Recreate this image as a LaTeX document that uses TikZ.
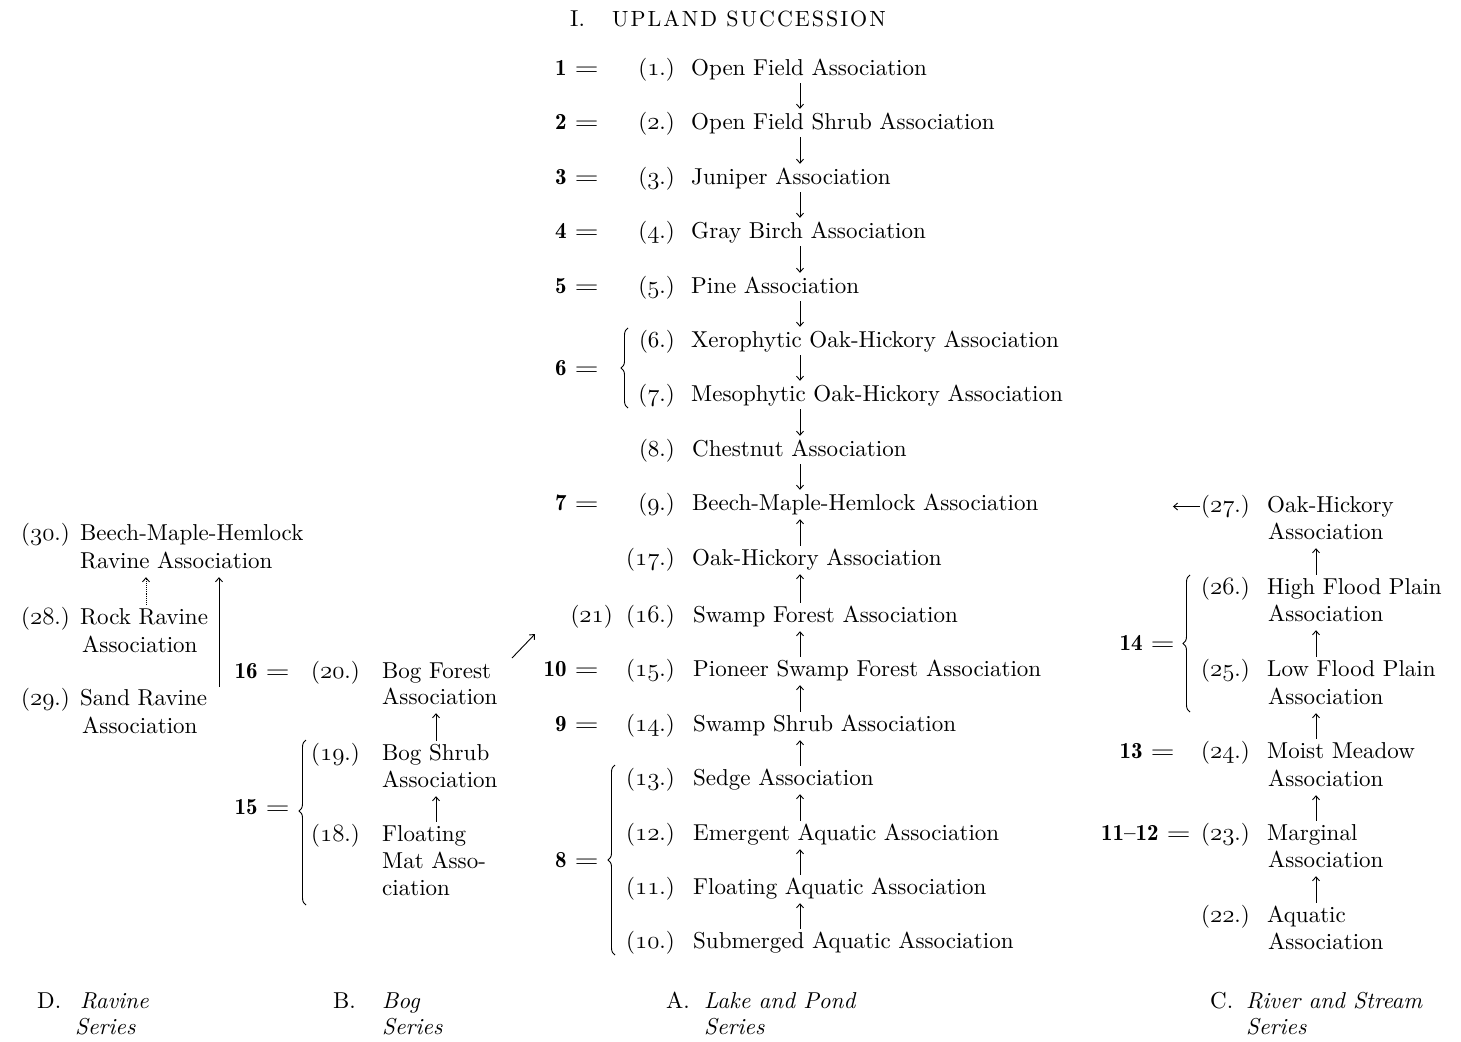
\documentclass[tikz,border=0pt]{standalone}
\usepackage{fontspec}
\usepackage{graphicx}
\usetikzlibrary{arrows.meta,decorations.pathreplacing}
\newfontfamily\diagfont{lmroman10-regular.otf}[ItalicFont=lmroman10-italic.otf, BoldFont=lmroman10-bold.otf]
\newfontfamily\titlefont{lmroman10-regular.otf}[LetterSpace=9]
\newfontfamily\eqfont{lmromandemi10-regular.otf}
\newcommand\diagfs{\diagfont\fontsize{23}{27}\selectfont}
\newcommand\osn[1]{{\fontencoding{OML}\fontfamily{cmm}\fontseries{m}\fontshape{it}\selectfont #1}}
\newcommand\eqlab[1]{{\eqfont #1}\hspace{8pt}\scalebox{1.35}[1]{=}}
\begin{document}
\begin{tikzpicture}[x=1pt,y=-1pt,
  t/.style={anchor=base west, inner sep=0pt, text height=16pt, text depth=5pt, font=\diagfs},
  te/.style={t, anchor=base east},
  arr/.style={-{Straight Barb[length=4pt,width=7pt]}, line width=0.9pt, shorten <=3pt, shorten >=4pt},
  dotarr/.style={arr, densely dotted},
  brc/.style={decorate, decoration={brace, amplitude=7pt}, line width=0.9pt},
  it/.style={t, font=\diagfs\itshape}]
\useasboundingbox (0,0) rectangle (1461,1041);
\fill[white] (0,0) rectangle (1461,1041);
% ---------- title
\node[t] (ti) at (570,27) {I.};
\node[t, font=\titlefont\fontsize{22}{26}\selectfont] (title) at (612,27) {UPLAND SUCCESSION};
% ---------- centre column
\coordinate (cx) at (800,0);
\node[te] (e1) at (599,75) {\eqlab{1}};
\node[te] (e2) at (599,129) {\eqlab{2}};
\node[te] (e3) at (599,184) {\eqlab{3}};
\node[te] (e4) at (599,238) {\eqlab{4}};
\node[te] (e5) at (599,293) {\eqlab{5}};
\node[te] (e6) at (599,375) {\eqlab{6}};
\node[te] (e7) at (599,510) {\eqlab{7}};
\node[te] (e10) at (599,676) {\eqlab{10}};
\node[te] (e9) at (599,731) {\eqlab{9}};
\node[te] (e8) at (599,867) {\eqlab{8}};
\node[te] (n1) at (675,75) {(\osn{1}.)};
\node[te] (n2) at (675,129) {(\osn{2}.)};
\node[te] (n3) at (675,184) {(\osn{3}.)};
\node[te] (n4) at (675,238) {(\osn{4}.)};
\node[te] (n5) at (675,293) {(\osn{5}.)};
\node[te] (n6) at (675,347) {(6.)};
\node[te] (n7) at (675,401) {(\osn{7}.)};
\node[te] (n8) at (675,456) {(8.)};
\node[te] (n9) at (675,510) {(\osn{9}.)};
\node[te] (n17) at (675,565) {(\osn{17}.)};
\node[te] (n21) at (613,622) {(\osn{21})};
\node[te] (n16) at (675,622) {(\osn{16}.)};
\node[te] (n15) at (675,676) {(\osn{15}.)};
\node[te] (n14) at (675,731) {(\osn{14}.)};
\node[te] (n13) at (675,785) {(\osn{13}.)};
\node[te] (n12) at (675,840) {(\osn{12}.)};
\node[te] (n11) at (675,894) {(\osn{11}.)};
\node[te] (n10) at (675,948) {(\osn{10}.)};
\node[t] (r1) at (691,75) {Open Field Association};
\node[t] (r2) at (691,129) {Open Field Shrub Association};
\node[t] (r3) at (691,184) {Juniper Association};
\node[t] (r4) at (691,238) {Gray Birch Association};
\node[t] (r5) at (691,293) {Pine Association};
\node[t] (r6) at (691,347) {Xerophytic Oak-Hickory Association};
\node[t] (r7) at (691,401) {Mesophytic Oak-Hickory Association};
\node[t] (r8) at (692,456) {Chestnut Association};
\node[t] (r9) at (692,510) {Beech-Maple-Hemlock Association};
\node[t] (r17) at (692,565) {Oak-Hickory Association};
\node[t] (r16) at (693,622) {Swamp Forest Association};
\node[t] (r15) at (693,676) {Pioneer Swamp Forest Association};
\node[t] (r14) at (693,731) {Swamp Shrub Association};
\node[t] (r13) at (693,785) {Sedge Association};
\node[t] (r12) at (693,840) {Emergent Aquatic Association};
\node[t] (r11) at (693,894) {Floating Aquatic Association};
\node[t] (r10) at (693,948) {Submerged Aquatic Association};
\foreach \a/\b in {r1/r2,r2/r3,r3/r4,r4/r5,r5/r6,r6/r7,r7/r8,r8/r9}
  \draw[arr] (\a.south -| cx) -- (\b.north -| cx);
\foreach \a/\b in {r17/r9,r16/r17,r15/r16,r14/r15,r13/r14,r12/r13,r11/r12,r10/r11}
  \draw[arr] (\a.north -| cx) -- (\b.south -| cx);
\coordinate (b6a) at (628,408); \coordinate (b6b) at (628,328);
\draw[brc] (b6a) -- (b6b);
\coordinate (b8a) at (615,955); \coordinate (b8b) at (615,765);
\draw[brc] (b8a) -- (b8b);
% ---------- bog column
\node[te] (e16) at (290,678) {\eqlab{16}};
\node[te] (e15) at (290,814) {\eqlab{15}};
\node[te] (n20) at (360,678) {(\osn{20}.)};
\node[te] (n19) at (360,760) {(\osn{19}.)};
\node[te] (n18) at (360,841) {(\osn{18}.)};
\node[t] (b20a) at (382,678) {Bog Forest};
\node[t] (b20b) at (382,704) {Association};
\node[t] (b19a) at (382,760) {Bog Shrub};
\node[t] (b19b) at (382,787) {Association};
\node[t] (b18a) at (382,841) {Floating};
\node[t] (b18b) at (382,868) {Mat Asso-};
\node[t] (b18c) at (382,895) {ciation};
\coordinate (bx) at (436,0);
\draw[arr] (b19a.north -| bx) -- (b20b.south -| bx);
\draw[arr] (b18a.north -| bx) -- (b19b.south -| bx);
\coordinate (b15a) at (306,905); \coordinate (b15b) at (306,740);
\draw[brc, decoration={aspect=0.57}] (b15a) -- (b15b);
\coordinate (dg1) at (512,658); \coordinate (dg2) at (535,634);
\draw[arr, shorten <=0pt, shorten >=0pt] (dg1) -- (dg2);
% ---------- ravine column
\node[te] (n30) at (70,540) {(\osn{30}.)};
\node[te] (n28) at (70,624) {(\osn{28}.)};
\node[te] (n29) at (70,705) {(\osn{29}.)};
\node[t] (v30a) at (80,540) {Beech-Maple-Hemlock};
\node[t] (v30b) at (80,568) {Ravine Association};
\node[t] (v28a) at (80,624) {Rock Ravine};
\node[t] (v28b) at (82,652) {Association};
\node[t] (v29a) at (80,705) {Sand Ravine};
\node[t] (v29b) at (82,733) {Association};
\coordinate (vx) at (146,0);
\draw[dotarr] (v28a.north -| vx) -- (v30b.south -| vx);
\coordinate (lb) at (219,687);
\draw[arr, shorten <=0pt] (lb) -- (v30b.south -| lb);
% ---------- river column
\node[te] (e14) at (1175,650) {\eqlab{14}};
\node[te] (e13) at (1175,758) {\eqlab{13}};
\node[te] (e11) at (1191,840) {\eqlab{11\textendash12}};
\node[te] (n27) at (1250,512) {(\osn{27}.)};
\node[te] (n26) at (1250,594) {(\osn{26}.)};
\node[te] (n25) at (1250,676) {(\osn{25}.)};
\node[te] (n24) at (1250,758) {(\osn{24}.)};
\node[te] (n23) at (1250,840) {(\osn{23}.)};
\node[te] (n22) at (1250,922) {(\osn{22}.)};
\node[t] (s27a) at (1267,512) {Oak-Hickory};
\node[t] (s27b) at (1268,539) {Association};
\node[t] (s26a) at (1267,594) {High Flood Plain};
\node[t] (s26b) at (1268,621) {Association};
\node[t] (s25a) at (1267,676) {Low Flood Plain};
\node[t] (s25b) at (1268,704) {Association};
\node[t] (s24a) at (1267,758) {Moist Meadow};
\node[t] (s24b) at (1268,786) {Association};
\node[t] (s23a) at (1267,840) {Marginal};
\node[t] (s23b) at (1268,867) {Association};
\node[t] (s22a) at (1267,922) {Aquatic};
\node[t] (s22b) at (1268,949) {Association};
\coordinate (sx) at (1316,0);
\foreach \a/\b in {s26a/s27b,s25a/s26b,s24a/s25b,s23a/s24b,s22a/s23b}
  \draw[arr] (\a.north -| sx) -- (\b.south -| sx);
\path (n27.west) ++(-28,0) coordinate (la);
\draw[arr, shorten <=1pt, shorten >=0pt] (n27.west) -- (la);
\coordinate (b14a) at (1190,712); \coordinate (b14b) at (1190,575);
\draw[brc] (b14a) -- (b14b);
% ---------- series labels
\node[t] (dD) at (37,1008) {D.};
\node[it] (dR) at (80,1008) {Ravine};
\node[it] (dS) at (75,1034) {Series};
\node[t] (bB) at (333,1008) {B.};
\node[it] (bG) at (382,1008) {Bog};
\node[it] (bS) at (382,1034) {Series};
\node[t] (aA) at (666,1008) {A.};
\node[it] (aL) at (704,1008) {Lake and Pond};
\node[it] (aS) at (704,1034) {Series};
\node[t] (cC) at (1210,1008) {C.};
\node[it] (cR) at (1246,1008) {River and Stream};
\node[it] (cS) at (1246,1034) {Series};
\end{tikzpicture}
\end{document}
